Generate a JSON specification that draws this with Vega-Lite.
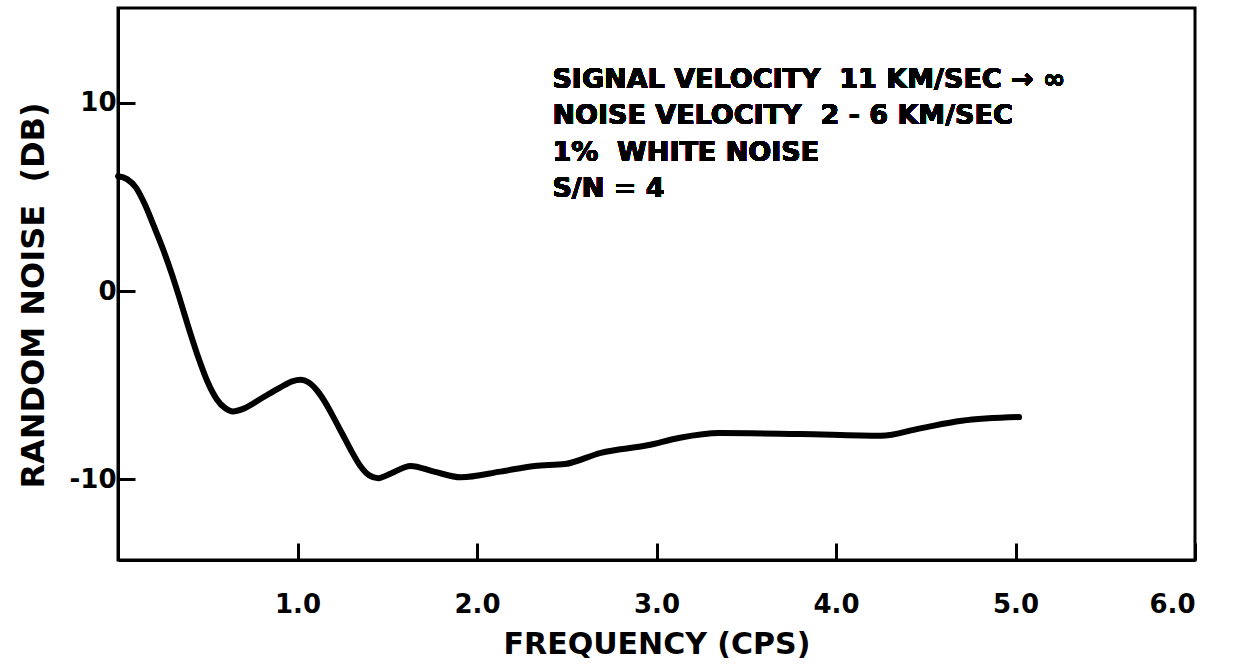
{
  "$schema": "https://vega.github.io/schema/vega-lite/v6.json",
  "width": 1077,
  "height": 552,
  "autosize": {"type": "none"},
  "padding": {"left": 118, "top": 8, "right": 46, "bottom": 109},
  "background": "white",
  "config": {
    "view": {"stroke": "black", "strokeWidth": 3},
    "font": "DejaVu Sans"
  },
  "data": {
    "values": [
      {"f": 0.00, "db": 6.1},
      {"f": 0.05, "db": 5.95},
      {"f": 0.10, "db": 5.5},
      {"f": 0.15, "db": 4.6},
      {"f": 0.20, "db": 3.45},
      {"f": 0.25, "db": 2.25},
      {"f": 0.30, "db": 0.9},
      {"f": 0.35, "db": -0.6},
      {"f": 0.40, "db": -2.15},
      {"f": 0.45, "db": -3.6},
      {"f": 0.50, "db": -4.85},
      {"f": 0.55, "db": -5.75},
      {"f": 0.60, "db": -6.25},
      {"f": 0.64, "db": -6.4},
      {"f": 0.70, "db": -6.25},
      {"f": 0.80, "db": -5.7},
      {"f": 0.90, "db": -5.15},
      {"f": 0.97, "db": -4.8},
      {"f": 1.02, "db": -4.72},
      {"f": 1.06, "db": -4.85},
      {"f": 1.11, "db": -5.3},
      {"f": 1.15, "db": -5.85},
      {"f": 1.20, "db": -6.7},
      {"f": 1.25, "db": -7.6},
      {"f": 1.30, "db": -8.5},
      {"f": 1.35, "db": -9.3},
      {"f": 1.40, "db": -9.8},
      {"f": 1.45, "db": -9.95},
      {"f": 1.52, "db": -9.7},
      {"f": 1.63, "db": -9.3},
      {"f": 1.76, "db": -9.6},
      {"f": 1.91, "db": -9.9},
      {"f": 2.13, "db": -9.6},
      {"f": 2.32, "db": -9.3},
      {"f": 2.49, "db": -9.2},
      {"f": 2.69, "db": -8.6},
      {"f": 2.95, "db": -8.2},
      {"f": 3.13, "db": -7.8},
      {"f": 3.35, "db": -7.55},
      {"f": 3.80, "db": -7.6},
      {"f": 4.25, "db": -7.7},
      {"f": 4.47, "db": -7.3},
      {"f": 4.70, "db": -6.9},
      {"f": 5.02, "db": -6.7}
    ]
  },
  "layer": [
    {
      "mark": {"type": "line", "color": "black", "strokeWidth": 6, "interpolate": "monotone", "strokeCap": "round"},
      "encoding": {
        "x": {
          "field": "f", "type": "quantitative",
          "scale": {"domain": [0, 6], "nice": false, "zero": false},
          "axis": {
            "values": [1, 2, 3, 4, 5, 6], "format": ".1f", "grid": false,
            "domainColor": "black", "domainWidth": 3,
            "tickColor": "black", "tickWidth": 3, "tickSize": -17,
            "labelPadding": 48, "labelFont": "DejaVu Sans", "labelFontWeight": "bold",
            "labelFontSize": 26, "labelColor": "black",
            "title": "FREQUENCY (CPS)", "titleFont": "DejaVu Sans", "titleFontWeight": "bold",
            "titleFontSize": 30, "titleColor": "black", "titlePadding": 12
          }
        },
        "y": {
          "field": "db", "type": "quantitative",
          "scale": {"domain": [-14.3, 15.05], "nice": false, "zero": false},
          "axis": {
            "values": [-10, 0, 10], "grid": false,
            "labelExpr": "'' + datum.value",
            "domainColor": "black", "domainWidth": 3,
            "tickColor": "black", "tickWidth": 3, "tickSize": -17,
            "labelPadding": 19, "labelFont": "DejaVu Sans", "labelFontWeight": "bold",
            "labelFontSize": 26, "labelColor": "black",
            "title": "RANDOM NOISE\u00a0\u00a0(DB)", "titleFont": "DejaVu Sans", "titleFontWeight": "bold",
            "titleFontSize": 32, "titleColor": "black", "titlePadding": 19, "titleY": 287
          }
        }
      }
    },
    {
      "mark": {
        "type": "text", "align": "left", "baseline": "alphabetic",
        "font": "DejaVu Sans", "fontWeight": "bold", "fontSize": 27, "color": "black",
        "lineHeight": 36.3,
        "text": ["SIGNAL VELOCITY\u00a0 11 KM/SEC → ∞", "NOISE VELOCITY\u00a0 2 - 6 KM/SEC", "1%\u00a0 WHITE NOISE", "S/N = 4"]
      },
      "encoding": {
        "x": {"datum": 2.42, "type": "quantitative"},
        "y": {"datum": 10.8, "type": "quantitative"}
      }
    }
  ]
}
